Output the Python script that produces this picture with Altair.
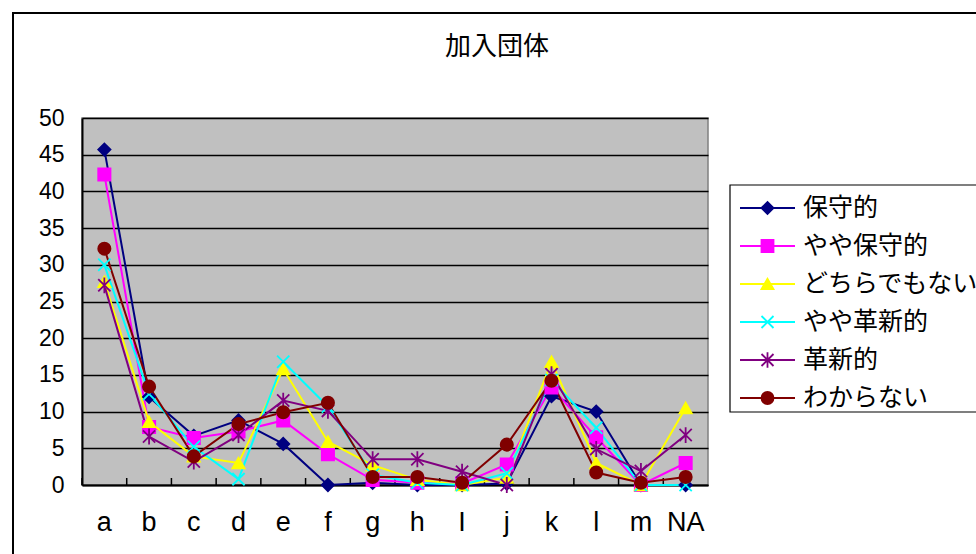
import altair as alt
import pandas as pd

# Categories on the x axis
categories = ["a", "b", "c", "d", "e", "f", "g", "h", "I", "j", "k", "l", "m", "NA"]

# Percentages per political orientation
series_names = ["保守的", "やや保守的", "どちらでもない", "やや革新的", "革新的", "わからない"]
conservative = [45.7, 12.0, 6.7, 8.8, 5.6, 0.0, 0.3, 0.0, 0.0, 0.2, 12.1, 10.0, 0.0, 0.0]
somewhat_conservative = [42.3, 7.9, 6.4, 7.3, 8.8, 4.2, 0.7, 0.3, 0.2, 2.8, 13.3, 6.5, 0.0, 3.0]
neither = [27.7, 8.6, 3.9, 3.0, 15.8, 5.9, 2.7, 0.7, 0.0, 1.0, 16.8, 3.0, 0.0, 10.5]
somewhat_progressive = [30.0, 12.4, 5.2, 0.8, 16.8, 10.7, 1.4, 0.3, 0.0, 1.6, 14.3, 7.8, 0.0, 0.0]
progressive = [27.2, 6.6, 3.2, 6.8, 11.5, 10.1, 3.5, 3.5, 1.8, 0.0, 15.1, 4.9, 1.9, 6.8]
unknown = [32.2, 13.4, 3.9, 8.3, 9.9, 11.2, 1.1, 1.1, 0.3, 5.5, 14.2, 1.7, 0.3, 1.1]

series_values = [conservative, somewhat_conservative, neither,
                 somewhat_progressive, progressive, unknown]
series_colors = ["#000080", "#FF00FF", "#FFFF00", "#00FFFF", "#800080", "#800000"]

rows = []
for name, values in zip(series_names, series_values):
    for cat, v in zip(categories, values):
        rows.append({"cat": cat, "series": name, "value": v})
df = pd.DataFrame(rows)
cat_df = pd.DataFrame({"cat": categories})
series_df = pd.DataFrame({"series": series_names})

# Marker shapes
marker_shapes = [
    "diamond",
    "square",
    "triangle-up",
    "M-1,-1L1,1M-1,1L1,-1",
    "M-1,-1L1,1M-1,1L1,-1M0,-1.3L0,1.3",
    "circle",
]

W, H = 626, 367
LABEL_FONT = "Liberation Sans"
CJK_FONT = "Noto Sans CJK JP"

x_scale = alt.Scale(type="band", domain=categories, paddingInner=0, paddingOuter=0)
y_scale = alt.Scale(domain=[0, 50], nice=False)
color_scale = alt.Scale(domain=series_names, range=series_colors)
shape_scale = alt.Scale(domain=series_names, range=marker_shapes)
# Vertical placement of the legend rows
legend_y_scale = alt.Scale(type="point", domain=series_names, range=[90, 280], padding=0)

x_axis = alt.Axis(
    title=None, labelFont=LABEL_FONT, labelFontSize=27, labelColor="black",
    labelAngle=0, labelPadding=24, ticks=False, domainColor="black",
    domainWidth=2, grid=False,
)
y_axis = alt.Axis(
    title=None, values=list(range(0, 51, 5)), labelFont=LABEL_FONT,
    labelFontSize=23, labelColor="black", labelPadding=18, ticks=False,
    domainColor="black", domainWidth=2, grid=True, gridColor="black",
    gridWidth=1.6,
)

one = pd.DataFrame({"k": [0]})

# Outer chart frame
frame = alt.Chart(one).mark_rect(
    filled=False, stroke="black", strokeWidth=2
).encode(
    x=alt.value(-69), x2=alt.value(W + 300), y=alt.value(-105), y2=alt.value(H + 100)
)

# Chart title
title = alt.Chart(one).mark_text(
    text="加入団体", font=CJK_FONT, fontSize=26, color="black",
    align="center", baseline="middle",
).encode(x=alt.value(415), y=alt.value(-71))

# Small tick marks at the category boundaries, pointing into the plot
ticks = alt.Chart(cat_df).mark_rule(color="black", strokeWidth=1.5).encode(
    x=alt.X("cat:N", bandPosition=0, scale=x_scale, axis=x_axis),
    y=alt.value(H),
    y2=alt.value(H - 7),
)

lines = alt.Chart(df).mark_line(strokeWidth=2).encode(
    x=alt.X("cat:N", bandPosition=0.5, scale=x_scale, axis=x_axis),
    y=alt.Y("value:Q", scale=y_scale, axis=y_axis),
    stroke=alt.Stroke("series:N", scale=color_scale, legend=None),
    detail="series:N",
)

points = alt.Chart(df).mark_point(filled=True, size=150, strokeWidth=1.8, opacity=1).encode(
    x=alt.X("cat:N", bandPosition=0.5, scale=x_scale, axis=x_axis),
    y=alt.Y("value:Q", scale=y_scale, axis=y_axis),
    fill=alt.Fill("series:N", scale=color_scale, legend=None),
    stroke=alt.Stroke("series:N", scale=color_scale, legend=None),
    shape=alt.Shape("series:N", scale=shape_scale, legend=None),
)

plot = alt.layer(ticks, lines, points)

# Legend: framed box with a line segment, marker and label per series
legend_box = alt.Chart(one).mark_rect(
    fill="white", stroke="black", strokeWidth=1.2
).encode(x=alt.value(648), x2=alt.value(648 + 300), y=alt.value(67), y2=alt.value(294))

legend_rules = alt.Chart(series_df).mark_rule(strokeWidth=2).encode(
    x=alt.value(658), x2=alt.value(713),
    y=alt.Y("series:N", scale=legend_y_scale, axis=None),
    stroke=alt.Stroke("series:N", scale=color_scale, legend=None),
)

legend_marks = alt.Chart(series_df).mark_point(
    filled=True, size=144, strokeWidth=1.8, opacity=1
).encode(
    x=alt.value(685.5),
    y=alt.Y("series:N", scale=legend_y_scale, axis=None),
    fill=alt.Fill("series:N", scale=color_scale, legend=None),
    stroke=alt.Stroke("series:N", scale=color_scale, legend=None),
    shape=alt.Shape("series:N", scale=shape_scale, legend=None),
)

legend_text = alt.Chart(series_df).mark_text(
    font=CJK_FONT, fontSize=25, color="black", align="left", baseline="middle"
).encode(
    x=alt.value(721),
    y=alt.Y("series:N", scale=legend_y_scale, axis=None),
    text="series:N",
)

legend = alt.layer(legend_box, legend_rules, legend_marks, legend_text)

chart = alt.layer(frame, title, plot, legend).resolve_scale(
    y="independent"
).properties(
    width=W,
    height=H,
    background="white",
    padding={"left": 82, "top": 118, "right": 268, "bottom": 69},
    autosize=alt.AutoSizeParams(type="none"),
).configure_view(
    fill="#C0C0C0", stroke="#808080", strokeWidth=1.5
)

chart.save("out.html", embed_options={"renderer": "svg", "actions": False})
